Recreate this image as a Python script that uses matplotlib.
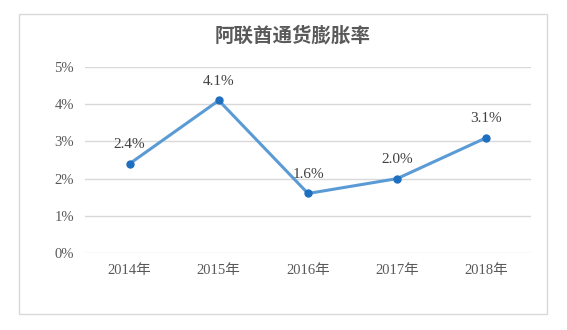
import matplotlib.pyplot as plt
from matplotlib.patches import Rectangle
from matplotlib.ticker import FuncFormatter

plt.rcParams['font.family'] = ['Liberation Serif', 'Noto Sans CJK SC', 'DejaVu Sans']

years = ['2014年', '2015年', '2016年', '2017年', '2018年']
rates = [2.4, 4.1, 1.6, 2.0, 3.1]
labels = ['2.4%', '4.1%', '1.6%', '2.0%', '3.1%']

fig = plt.figure(figsize=(5.67, 3.30), dpi=100)
fig.patches.append(Rectangle((19 / 567, 1 - 314 / 330), 528 / 567, 300 / 330,
                             transform=fig.transFigure, fill=False,
                             edgecolor='#d9d9d9', linewidth=1))
ax = fig.add_axes([85 / 567, 1 - 253 / 330, 446 / 567, 186 / 330])

x = list(range(len(years)))
ax.plot(x, rates, color='#5b9bd5', linewidth=2.2, marker='o', markersize=5,
        markerfacecolor='#1f6fc0', markeredgecolor='#1f6fc0', zorder=3)
for xi, r, t in zip(x, rates, labels):
    ax.annotate(t, (xi, r), xytext=(0, 9), textcoords='offset points',
                ha='center', va='bottom', fontsize=11, color='#404040')

ax.set_xlim(-0.5, len(years) - 0.5)
ax.set_ylim(0, 5)
ax.set_yticks(range(6))
ax.yaxis.set_major_formatter(FuncFormatter(lambda v, p: '%d%%' % v))
ax.set_xticks(x)
ax.set_xticklabels(years)
ax.tick_params(length=0, labelsize=10.5, colors='#595959', pad=8)
ax.tick_params(axis='y', pad=8)
ax.grid(axis='y', color='#d9d9d9', linewidth=1)
ax.set_axisbelow(True)
for s in ax.spines.values():
    s.set_visible(False)

# title
fig.text(293 / 567, 1 - 36 / 330, '阿联酋通货膨胀率', ha='center', va='center',
         fontsize=14, fontweight='bold', color='#595959')

fig.savefig('out.png', dpi=100)
